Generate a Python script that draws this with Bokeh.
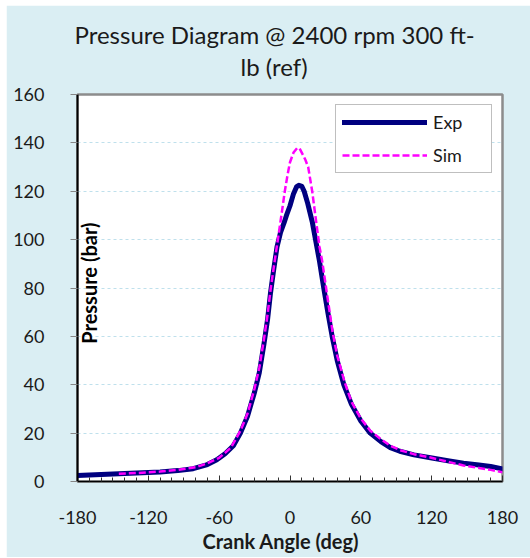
import math
from bokeh.plotting import figure
from bokeh.models import Range1d, FixedTicker, Legend, Label, Spacer, Title
from bokeh.layouts import column, row
from bokeh.embed import file_html
from bokeh.resources import INLINE

# ---- data ----
exp_angle = [-180, -165, -145, -125, -110, -95, -82, -70, -62, -55, -48, -42, -36, -30, -26,
             -22, -19, -16.5, -14, -11, -8, -5, -3, 0, 3, 5.5, 7.5, 10, 12, 15, 19, 22, 25,
             28.6, 32, 35.7, 40, 45.6, 52, 60, 68, 77, 85, 93, 105, 119, 135, 147, 160, 170, 180]
exp_pressure = [2.5, 2.8, 3.2, 3.6, 3.9, 4.5, 5.3, 7.0, 9.0, 11.5, 14.8, 20, 27, 37, 45,
                57, 67, 78, 87, 97, 103, 107, 110, 114, 119, 121.8, 122.5, 122, 120, 115, 107, 99, 91,
                80, 70, 60, 50, 40, 32, 25, 20, 16.5, 14, 12.5, 11, 9.8, 8.5, 7.6, 6.8, 6.2, 5.2]

sim_angle = [-145, -130, -110, -95, -80, -70, -60, -50, -42, -36, -30, -26, -22, -19, -16, -13,
             -10, -7, -4.4, -2, 0, 3, 6, 8, 11, 13, 15.4, 18.8, 22, 25, 27.3, 30, 36, 40, 46,
             52, 60, 68, 77, 85, 93, 105, 119, 135, 147, 160, 170, 180]
sim_pressure = [3.2, 3.5, 4.1, 4.8, 5.9, 7.5, 9.8, 14, 21, 28, 38.5, 47, 59, 69, 81, 91,
                101, 111, 120, 127, 132, 136, 137.8, 137.8, 135, 133, 130, 120, 108, 97, 91, 82, 62, 52, 41.5,
                33, 26, 21, 17.5, 14.8, 13, 11.3, 9.9, 8.0, 6.6, 5.6, 4.8, 3.8]

x_ticks = [-180, -120, -60, 0, 60, 120, 180]
x_minor = list(range(-180, 181, 10))
y_ticks = [0, 20, 40, 60, 80, 100, 120, 140, 160]

title_lines = ["Pressure Diagram @ 2400 rpm 300 ft-", "lb (ref)"]
x_title = "Crank Angle (deg)"
y_title = "Pressure (bar)"

FONT = "Lato"
BG = "#DAEEF3"
TXT = "#1a1a1a"

p = figure(width=524, height=552, output_backend="svg", toolbar_location=None,
           x_range=Range1d(-180, 180), y_range=Range1d(0, 160),
           min_border_left=71, min_border_right=28, min_border_top=89, min_border_bottom=76)
p.border_fill_color = BG
p.background_fill_color = "white"
p.outline_line_color = "#8C8C8C"
p.outline_line_width = 2.5

# two-line chart title (stacked from the plot upward: spacer, line 2, line 1)
p.add_layout(Title(text=" ", text_font=FONT, text_font_size="4px", standoff=6), "above")
p.add_layout(Title(text=title_lines[1], align="left", offset=163, standoff=2,
                   text_font=FONT, text_font_size="24px", text_font_style="normal",
                   text_color=TXT), "above")
p.add_layout(Title(text=title_lines[0], align="left", offset=-3, standoff=0,
                   text_font=FONT, text_font_size="24px", text_font_style="normal",
                   text_color=TXT), "above")

# grid
p.xgrid.grid_line_color = None
p.ygrid.grid_line_color = "#BFE0EC"
p.ygrid.grid_line_dash = "3 3"
p.ygrid.grid_line_width = 1

# x axis
p.xaxis.ticker = FixedTicker(ticks=x_ticks, minor_ticks=x_minor)
p.xaxis.major_label_overrides = {t: str(t) for t in x_ticks}
p.xaxis.axis_line_color = "black"
p.xaxis.axis_line_width = 1.5
p.xaxis.major_tick_in = 6
p.xaxis.major_tick_out = 0
p.xaxis.minor_tick_in = 4
p.xaxis.minor_tick_out = 0
p.xaxis.major_tick_line_color = "#333333"
p.xaxis.minor_tick_line_color = "#333333"
p.xaxis.major_label_text_font = FONT
p.xaxis.major_label_text_font_size = "18px"
p.xaxis.major_label_text_color = TXT
p.xaxis.major_label_standoff = 29

# x-axis title, centred on the chart area like the reference
p.add_layout(Title(text=x_title, align="left", offset=125, standoff=0,
                   text_font=FONT, text_font_size="20px", text_font_style="bold",
                   text_color=TXT), "below")

# y axis
p.yaxis.ticker = FixedTicker(ticks=y_ticks, minor_ticks=[])
p.yaxis.axis_line_color = "black"
p.yaxis.axis_line_width = 2
p.yaxis.major_tick_in = 0
p.yaxis.major_tick_out = 7
p.yaxis.major_tick_line_color = "#868686"
p.yaxis.minor_tick_line_color = None
p.yaxis.major_label_text_font = FONT
p.yaxis.major_label_text_font_size = "18px"
p.yaxis.major_label_text_color = TXT
p.yaxis.major_label_standoff = 26

# y-axis title, drawn just inside the plot area as in the reference
p.add_layout(Label(x=-180, y=82, x_offset=-1, text=y_title, angle=math.pi / 2,
                   text_align="center", text_baseline="top", text_font=FONT,
                   text_font_size="20px", text_font_style="bold", text_color="black"))

r_exp = p.line(exp_angle, exp_pressure, line_color="#000080", line_width=5,
               line_join="round", line_cap="round")
r_sim = p.line(sim_angle, sim_pressure, line_color="#FF00FF", line_width=2.5,
               line_dash="7 3", line_join="round")

legend = Legend(items=[("Exp", [r_exp]), ("Sim", [r_sim])], location="top_right",
                margin=10, padding=6, spacing=11, glyph_width=85, glyph_height=20,
                label_height=20, label_width=52, label_standoff=6,
                label_text_font=FONT, label_text_font_size="18px", label_text_color=TXT,
                border_line_color="#808080", border_line_width=1,
                background_fill_color="white", background_fill_alpha=1)
p.add_layout(legend, "center")

layout = column(Spacer(height=5), row(Spacer(width=6), p))
open("out.html", "w").write(file_html(layout, INLINE))
